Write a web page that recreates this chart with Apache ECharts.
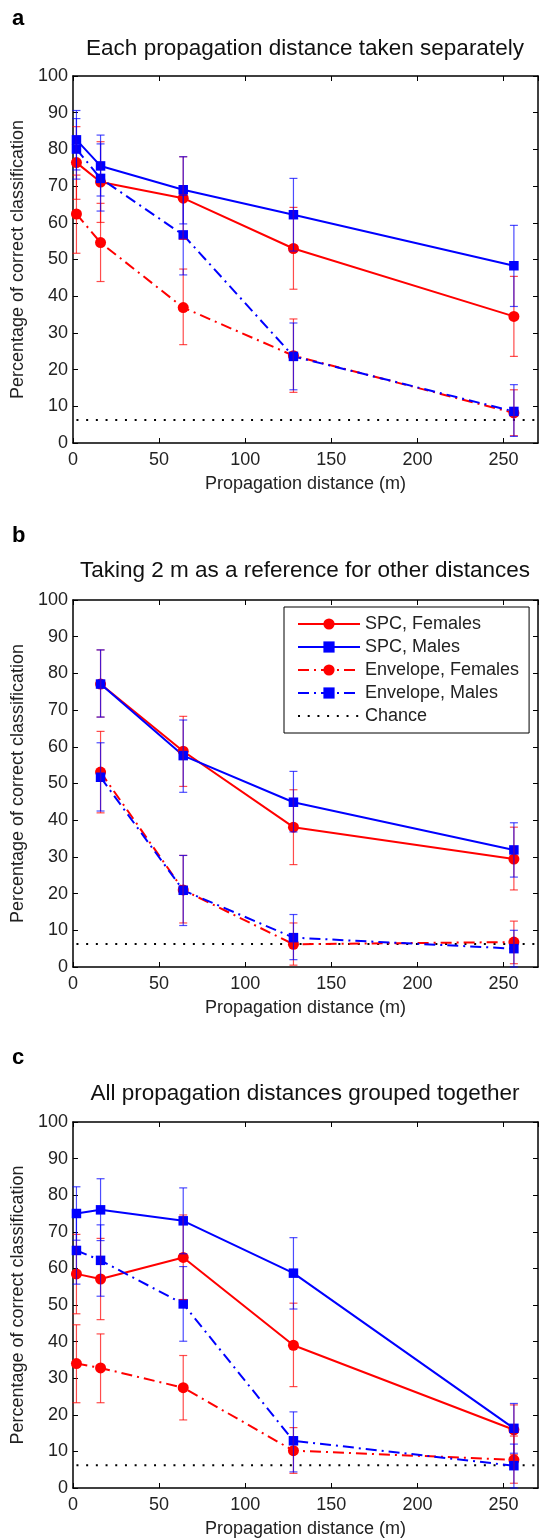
<!DOCTYPE html>
<html lang="en">
<head>
<meta charset="UTF-8">
<title>Percentage of correct classification</title>
<style>
    * { padding: 0; margin: 0; }
    body { background: #fff; }
</style>
<script src="https://cdn.jsdelivr.net/npm/echarts@6/dist/echarts.min.js"></script>
</head>
<body>
<div id="main" style="width:539px;height:1539px;"></div>
<script>
// distances (m)
var distA = [2, 16, 64, 128, 256];
var distB = [16, 64, 128, 256];
var distC = [2, 16, 64, 128, 256];
var chance = 6.25;
var chanceX = [2, 270];

// panel a: each distance taken separately
var aSpcF = [76.4, 71.1, 66.7, 53.0, 34.5];
var aSpcFErr = [[66.4, 86.2], [60.1, 82.1], [55.5, 78.0], [41.9, 64.2], [23.6, 45.4]];
var aSpcM = [82.6, 75.5, 69.0, 62.2, 48.3];
var aSpcMErr = [[74.4, 90.6], [67.3, 83.9], [59.7, 78.0], [52.3, 72.1], [37.2, 59.3]];
var aEnvF = [62.4, 54.6, 36.9, 23.8, 8.2];
var aEnvFErr = [[51.7, 73.0], [44.0, 65.3], [26.8, 47.4], [13.8, 33.8], [2.0, 14.5]];
var aEnvM = [80.1, 72.1, 56.7, 23.6, 8.6];
var aEnvMErr = [[71.9, 88.4], [63.2, 81.5], [45.8, 67.5], [14.5, 32.7], [1.8, 15.9]];

// panel b: 2 m as reference
var bSpcF = [77.1, 58.8, 38.1, 29.4];
var bSpcFErr = [[68.1, 86.4], [49.2, 68.3], [27.9, 48.3], [21.0, 38.1]];
var bSpcM = [77.1, 57.6, 44.9, 31.9];
var bSpcMErr = [[68.1, 86.4], [47.6, 67.3], [36.8, 53.3], [24.5, 39.3]];
var bEnvF = [53.1, 21.0, 6.2, 6.8];
var bEnvFErr = [[42.0, 64.2], [12.0, 30.4], [0.5, 12.0], [0.9, 12.5]];
var bEnvM = [51.7, 20.9, 8.0, 5.0];
var bEnvMErr = [[42.5, 61.1], [11.3, 30.4], [2.0, 14.3], [0, 10.0]];

// panel c: all distances grouped
var cSpcF = [58.5, 57.1, 63.0, 39.0, 15.9];
var cSpcFErr = [[47.6, 69.3], [46.0, 68.2], [51.5, 74.6], [27.7, 50.5], [9.1, 22.7]];
var cSpcM = [75.0, 76.0, 73.0, 58.7, 16.3];
var cSpcMErr = [[67.7, 82.3], [67.6, 84.5], [64.0, 82.0], [48.9, 68.4], [9.5, 23.1]];
var cEnvF = [34.0, 32.8, 27.4, 10.2, 7.7];
var cEnvFErr = [[23.3, 44.6], [23.3, 42.1], [18.6, 36.2], [4.0, 16.5], [1.3, 14.2]];
var cEnvM = [64.9, 62.2, 50.3, 12.9, 6.1];
var cEnvMErr = [[55.7, 74.2], [52.4, 71.9], [40.1, 60.5], [4.4, 20.8], [0, 12.0]];

var panelLabels = ['a', 'b', 'c'];
var panelTitles = [
    'Each propagation distance taken separately',
    'Taking 2 m as a reference for other distances',
    'All propagation distances grouped together'
];
var names = ['SPC, Females', 'SPC, Males', 'Envelope, Females', 'Envelope, Males', 'Chance'];

var FONT = '"Liberation Sans", Arial, sans-serif';
var RED = '#ff0000', BLUE = '#0000ff';
var dashDot = [11, 5, 2, 5];

var gridTops = [76, 600, 1122];
var labelTops = [8, 525, 1047];
var titleTops = [37, 559, 1082];

function zip(xs, ys) {
    return xs.map(function (x, i) { return [x, ys[i]]; });
}
function zipErr(xs, errs) {
    return xs.map(function (x, i) { return [x, errs[i][0], errs[i][1]]; });
}

// vertical error bar with caps
function renderErr(params, api) {
    var x = api.value(0);
    var lo = api.coord([x, api.value(1)]);
    var hi = api.coord([x, api.value(2)]);
    var w = 4;
    var style = { stroke: api.visual('color'), lineWidth: 1.2, opacity: 0.7 };
    return {
        type: 'group',
        children: [
            { type: 'line', shape: { x1: lo[0], y1: lo[1], x2: hi[0], y2: hi[1] }, style: style },
            { type: 'line', shape: { x1: lo[0] - w, y1: lo[1], x2: lo[0] + w, y2: lo[1] }, style: style },
            { type: 'line', shape: { x1: hi[0] - w, y1: hi[1], x2: hi[0] + w, y2: hi[1] }, style: style }
        ]
    };
}

var panels = [
    { dist: distA, sets: [[aSpcF, aSpcFErr], [aSpcM, aSpcMErr], [aEnvF, aEnvFErr], [aEnvM, aEnvMErr]] },
    { dist: distB, sets: [[bSpcF, bSpcFErr], [bSpcM, bSpcMErr], [bEnvF, bEnvFErr], [bEnvM, bEnvMErr]] },
    { dist: distC, sets: [[cSpcF, cSpcFErr], [cSpcM, cSpcMErr], [cEnvF, cEnvFErr], [cEnvM, cEnvMErr]] }
];

var styles = [
    { color: RED, symbol: 'circle', size: 11, type: 'solid' },
    { color: BLUE, symbol: 'rect', size: 9.5, type: 'solid' },
    { color: RED, symbol: 'circle', size: 11, type: dashDot },
    { color: BLUE, symbol: 'rect', size: 9.5, type: dashDot }
];

var frame = { show: true, onZero: false, lineStyle: { color: '#000', width: 1.5 } };
var tick = { show: true, inside: true, length: 5, lineStyle: { color: '#000', width: 1 } };
var label = { color: '#222', fontSize: 18, fontFamily: FONT };

var grid = [], xAxis = [], yAxis = [], series = [], title = [];

panels.forEach(function (p, g) {
    grid.push({ left: 73, right: 1, top: gridTops[g], height: 367 });
    title.push({ text: panelLabels[g], left: 12, top: labelTops[g], padding: 0,
        textStyle: { fontSize: 22, fontWeight: 'bold', color: '#000', fontFamily: FONT } });
    title.push({ text: panelTitles[g], left: 305, top: titleTops[g], textAlign: 'center', padding: 0,
        textStyle: { fontSize: 22.5, fontWeight: 'normal', color: '#111', fontFamily: FONT } });

    xAxis.push({
        gridIndex: g, type: 'value', position: 'bottom', min: 0, max: 270, interval: 50,
        axisLine: frame, axisTick: tick, splitLine: { show: false },
        axisLabel: Object.assign({ margin: 8, showMaxLabel: false }, label),
        name: 'Propagation distance (m)', nameLocation: 'middle', nameGap: 32,
        nameTextStyle: label
    });
    xAxis.push({
        gridIndex: g, type: 'value', position: 'top', min: 0, max: 270, interval: 50,
        axisLine: frame, axisTick: tick, splitLine: { show: false }, axisLabel: { show: false }
    });
    yAxis.push({
        gridIndex: g, type: 'value', position: 'left', min: 0, max: 100, interval: 10,
        axisLine: frame, axisTick: tick, splitLine: { show: false },
        axisLabel: Object.assign({ margin: 5 }, label),
        name: 'Percentage of correct classification', nameLocation: 'middle', nameGap: 42,
        nameRotate: 90, nameTextStyle: label
    });
    yAxis.push({
        gridIndex: g, type: 'value', position: 'right', min: 0, max: 100, interval: 10,
        axisLine: frame, axisTick: tick, splitLine: { show: false }, axisLabel: { show: false }
    });

    var xi = g * 2, yi = g * 2;
    p.sets.forEach(function (s, k) {
        var st = styles[k];
        series.push({
            type: 'custom', name: names[k] + ' err', xAxisIndex: xi, yAxisIndex: yi,
            renderItem: renderErr, data: zipErr(p.dist, s[1]),
            encode: { x: 0, y: [1, 2] }, itemStyle: { color: st.color },
            z: 3, silent: true
        });
        series.push({
            type: 'line', name: names[k], xAxisIndex: xi, yAxisIndex: yi,
            data: zip(p.dist, s[0]), color: st.color,
            symbol: st.symbol, symbolSize: st.size, showSymbol: true,
            lineStyle: { width: 2, type: st.type, color: st.color },
            itemStyle: { color: st.color },
            z: 2, animation: false
        });
    });
    series.push({
        type: 'line', name: names[4], xAxisIndex: xi, yAxisIndex: yi,
        data: chanceX.map(function (x) { return [x, chance]; }),
        symbol: 'none', color: '#000',
        lineStyle: { width: 2, type: [2, 7.7], color: '#000' },
        z: 1, animation: false
    });
});

var legendData = names.map(function (n) {
    return n === 'Chance' ? { name: n, itemStyle: { opacity: 0 } } : n;
});

var myChart = echarts.init(document.getElementById('main'));
myChart.setOption({
    animation: false,
    backgroundColor: '#fff',
    title: title,
    grid: grid,
    xAxis: xAxis,
    yAxis: yAxis,
    legend: {
        data: legendData, orient: 'vertical', left: 284, top: 607,
        padding: [8, 10, 8, 13], itemGap: 5, itemWidth: 62, itemHeight: 14,
        backgroundColor: '#fff', borderColor: '#000', borderWidth: 1,
        textStyle: { fontSize: 18, fontFamily: FONT, color: '#222', lineHeight: 17 },
        selectedMode: false
    },
    series: series
});
</script>
</body>
</html>
